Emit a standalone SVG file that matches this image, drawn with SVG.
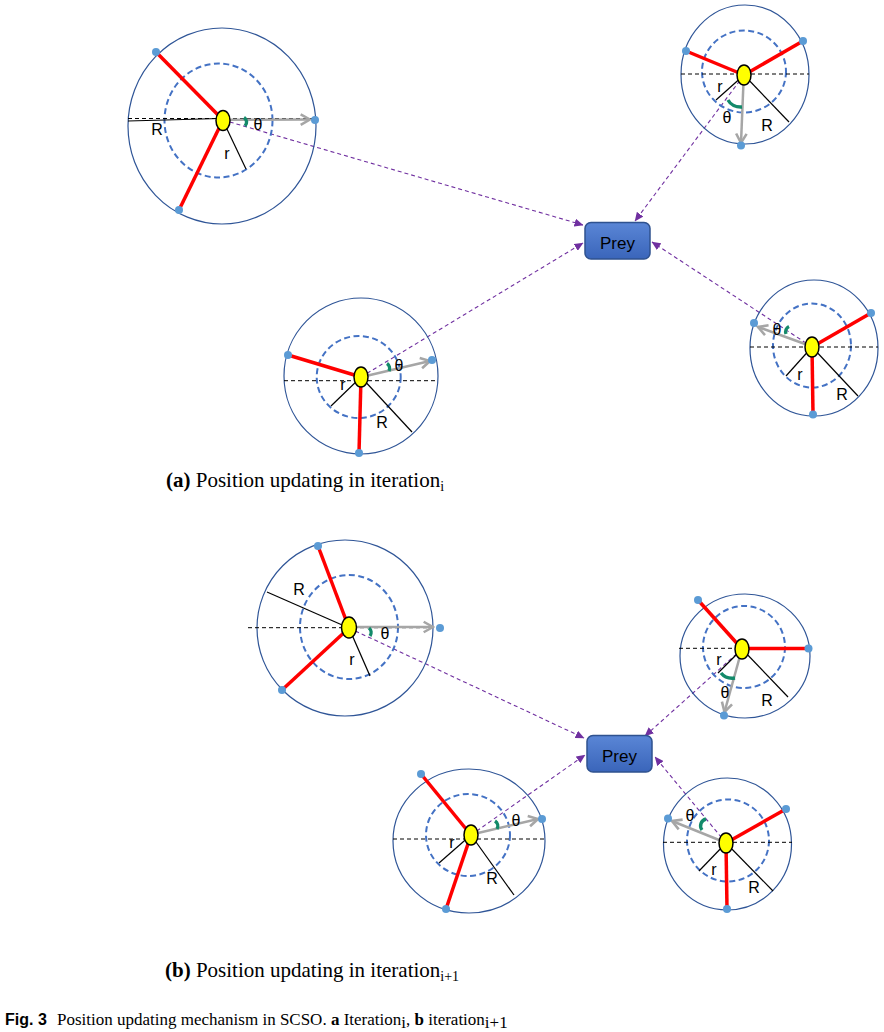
<svg xmlns="http://www.w3.org/2000/svg" width="884" height="1032" viewBox="0 0 884 1032">
<style>
.outer{fill:none;stroke:#2F5597;stroke-width:1.2}
.inner{fill:none;stroke:#4472C4;stroke-width:2;stroke-dasharray:6 3.5}
.hz{stroke:#000;stroke-width:1;stroke-dasharray:4 3}
.blk{stroke:#000;stroke-width:1.2}
.red{stroke:#FF0000;stroke-width:3.5;stroke-linecap:butt}
.dot{fill:#5B9BD5}
.gray{stroke:#A6A6A6;stroke-width:2.5;fill:none;marker-end:url(#garr)}
.arc{fill:none;stroke:#138A6A;stroke-width:3.4}
.node{fill:#FFFF00;stroke:#000;stroke-width:1.5}
.lbl{font-family:"Liberation Sans",Arial,sans-serif;font-size:16px;fill:#000;text-anchor:middle}
.pur{stroke:#7030A0;stroke-width:1.1;stroke-dasharray:4 3;fill:none;marker-end:url(#parr)}
.prey{fill:url(#pg);stroke:#2F528F;stroke-width:1.5}
.preyt{font-family:"Liberation Sans",Arial,sans-serif;font-size:17px;fill:#000;text-anchor:middle}
.cap{font-family:"Liberation Serif","Times New Roman",serif;font-size:21px;fill:#000}
.fig{font-family:"Liberation Serif","Times New Roman",serif;font-size:17px;fill:#000}
</style>
<defs>
<marker id="garr" markerUnits="userSpaceOnUse" markerWidth="14" markerHeight="14" viewBox="0 0 12 12" refX="10" refY="6" orient="auto">
<path d="M2,1.5 L10,6 L2,10.5" fill="none" stroke="#A6A6A6" stroke-width="2.2"/>
</marker>
<marker id="parr" markerUnits="userSpaceOnUse" markerWidth="9" markerHeight="8" viewBox="0 0 9 8" refX="8.5" refY="4" orient="auto">
<path d="M0,0 L9,4 L0,8 z" fill="#7030A0"/>
</marker>
<linearGradient id="pg" x1="0" y1="0" x2="0" y2="1">
<stop offset="0" stop-color="#5A86D6"/>
<stop offset="1" stop-color="#3A65BA"/>
</linearGradient>
</defs>

<g id="connectors">
<line class="pur" x1="223" y1="120" x2="583" y2="225"/>
<line class="pur" x1="361" y1="377" x2="583" y2="243"/>
<line class="pur" x1="744" y1="75" x2="635" y2="221"/>
<line class="pur" x1="812" y1="347" x2="652" y2="242"/>
<line class="pur" x1="349" y1="628" x2="584" y2="738"/>
<line class="pur" x1="471" y1="835" x2="585" y2="755"/>
<line class="pur" x1="742" y1="649" x2="645" y2="736"/>
<line class="pur" x1="726" y1="843" x2="655" y2="757"/>
</g>

<g id="cat-a1">
<ellipse class="outer" cx="222" cy="126" rx="94" ry="98"/>
<ellipse class="inner" cx="218.5" cy="120.5" rx="54" ry="57"/>
<line class="hz" x1="128" y1="118.5" x2="316" y2="118.5"/>
<line class="blk" x1="128" y1="121" x2="220" y2="118.5"/>
<line class="blk" x1="226" y1="127" x2="246" y2="169"/>
<line class="red" x1="223" y1="120" x2="156" y2="52"/>
<line class="red" x1="223" y1="120" x2="179" y2="210"/>
<line class="gray" x1="230" y1="119.8" x2="310" y2="119.5"/>
<circle class="dot" cx="156" cy="52" r="4"/>
<circle class="dot" cx="179" cy="210" r="4"/>
<circle class="dot" cx="315" cy="120" r="4"/>
<path class="arc" d="M244,117.5 A7,6 0 0 1 245,126"/>
<ellipse class="node" cx="223" cy="120.5" rx="7" ry="10"/>
<text class="lbl" x="157" y="135">R</text>
<text class="lbl" x="227" y="159">r</text>
<text class="lbl" x="258" y="130">θ</text>
</g>

<g id="cat-a2">
<ellipse class="outer" cx="745" cy="74.5" rx="64" ry="69.5"/>
<ellipse class="inner" cx="744" cy="71.5" rx="42" ry="41"/>
<line class="hz" x1="681" y1="74" x2="809" y2="74"/>
<line class="red" x1="744" y1="75" x2="686" y2="51"/>
<line class="red" x1="744" y1="75" x2="803" y2="41"/>
<line class="blk" x1="744" y1="75" x2="716" y2="100"/>
<line class="blk" x1="744" y1="75" x2="789" y2="122"/>
<line class="gray" x1="743.5" y1="82" x2="741" y2="143"/>
<circle class="dot" cx="686" cy="51" r="4"/>
<circle class="dot" cx="803" cy="41" r="4"/>
<circle class="dot" cx="741" cy="145.5" r="4"/>
<path class="arc" d="M728,100 A14,12 0 0 0 742,107"/>
<ellipse class="node" cx="744" cy="75" rx="7" ry="10"/>
<text class="lbl" x="720" y="92">r</text>
<text class="lbl" x="767" y="131">R</text>
<text class="lbl" x="727" y="123">θ</text>
</g>

<g id="cat-a3">
<ellipse class="outer" cx="814" cy="348" rx="64" ry="68"/>
<ellipse class="inner" cx="812" cy="345.5" rx="39" ry="42"/>
<line class="hz" x1="750" y1="347" x2="878" y2="347"/>
<line class="red" x1="812" y1="347" x2="871" y2="313"/>
<line class="red" x1="812" y1="347" x2="813" y2="414"/>
<line class="blk" x1="812" y1="347" x2="786" y2="376"/>
<line class="blk" x1="812" y1="347" x2="858" y2="396"/>
<line class="gray" x1="805" y1="344" x2="758" y2="327"/>
<circle class="dot" cx="871" cy="313" r="4"/>
<circle class="dot" cx="813" cy="414.5" r="4"/>
<circle class="dot" cx="754" cy="323" r="4"/>
<path class="arc" d="M789,326.5 A6,6 0 0 0 786,334"/>
<ellipse class="node" cx="812" cy="347" rx="7" ry="10"/>
<text class="lbl" x="800" y="380">r</text>
<text class="lbl" x="842" y="400">R</text>
<text class="lbl" x="777" y="335">θ</text>
</g>

<g id="cat-a4">
<ellipse class="outer" cx="361" cy="376" rx="77" ry="78"/>
<ellipse class="inner" cx="358.7" cy="377" rx="42" ry="41"/>
<line class="hz" x1="284" y1="380.7" x2="438" y2="380.7"/>
<line class="red" x1="361" y1="377" x2="288" y2="355"/>
<line class="red" x1="361" y1="377" x2="359" y2="453"/>
<line class="blk" x1="361" y1="377" x2="331" y2="406"/>
<line class="blk" x1="361" y1="377" x2="412" y2="432"/>
<line class="gray" x1="368" y1="375.5" x2="430" y2="361"/>
<circle class="dot" cx="288" cy="355" r="4"/>
<circle class="dot" cx="359" cy="453" r="4"/>
<circle class="dot" cx="432" cy="360" r="4"/>
<path class="arc" d="M387,363.5 A6,6 0 0 1 389,371"/>
<ellipse class="node" cx="361" cy="377" rx="7" ry="10"/>
<text class="lbl" x="343" y="390">r</text>
<text class="lbl" x="382" y="428">R</text>
<text class="lbl" x="399" y="371">θ</text>
</g>

<g id="prey-a">
<rect class="prey" x="585" y="222.5" width="65" height="36.5" rx="6"/>
<text class="preyt" x="617.5" y="248.5">Prey</text>
</g>

<g id="cat-b1">
<ellipse class="outer" cx="345" cy="628" rx="88" ry="88"/>
<ellipse class="inner" cx="349" cy="627" rx="49" ry="52"/>
<line class="hz" x1="248" y1="627.7" x2="433" y2="627.7"/>
<line class="red" x1="349" y1="628" x2="318" y2="546"/>
<line class="red" x1="349" y1="628" x2="282" y2="690"/>
<line class="blk" x1="349" y1="628" x2="267" y2="592"/>
<line class="blk" x1="349" y1="628" x2="370" y2="676"/>
<line class="gray" x1="356" y1="627" x2="433" y2="627"/>
<circle class="dot" cx="318" cy="546" r="4"/>
<circle class="dot" cx="282" cy="690" r="4"/>
<circle class="dot" cx="440" cy="628" r="4"/>
<path class="arc" d="M369,628 A6,6 0 0 1 370,636"/>
<ellipse class="node" cx="349" cy="627.5" rx="7.5" ry="10.5"/>
<text class="lbl" x="299" y="595">R</text>
<text class="lbl" x="352" y="665">r</text>
<text class="lbl" x="385" y="639">θ</text>
</g>

<g id="cat-b2">
<ellipse class="outer" cx="745" cy="656" rx="65" ry="62"/>
<ellipse class="inner" cx="744" cy="647" rx="41" ry="41"/>
<line class="hz" x1="679" y1="648.3" x2="808" y2="648.3"/>
<line class="red" x1="742" y1="649" x2="698" y2="600"/>
<line class="red" x1="742" y1="648.5" x2="808" y2="648.5"/>
<line class="blk" x1="742" y1="649" x2="718" y2="673"/>
<line class="blk" x1="742" y1="649" x2="788" y2="697"/>
<line class="gray" x1="740" y1="656" x2="724.5" y2="712"/>
<circle class="dot" cx="698" cy="600" r="4"/>
<circle class="dot" cx="808.5" cy="648.5" r="4"/>
<circle class="dot" cx="724" cy="715.5" r="4"/>
<path class="arc" d="M721,673 A14,12 0 0 0 735,678"/>
<ellipse class="node" cx="742" cy="649" rx="7" ry="10"/>
<text class="lbl" x="719" y="665">r</text>
<text class="lbl" x="767" y="706">R</text>
<text class="lbl" x="725" y="698">θ</text>
</g>

<g id="cat-b3">
<ellipse class="outer" cx="469" cy="841" rx="76" ry="72"/>
<ellipse class="inner" cx="468" cy="835" rx="42" ry="41"/>
<line class="hz" x1="393" y1="839" x2="545" y2="839"/>
<line class="red" x1="471" y1="835" x2="421" y2="774"/>
<line class="red" x1="471" y1="835" x2="446" y2="909"/>
<line class="blk" x1="471" y1="835" x2="439" y2="863"/>
<line class="blk" x1="471" y1="835" x2="514" y2="895"/>
<line class="gray" x1="478" y1="833" x2="538" y2="819"/>
<circle class="dot" cx="421" cy="774" r="4"/>
<circle class="dot" cx="446" cy="909" r="4"/>
<circle class="dot" cx="542" cy="819" r="4"/>
<path class="arc" d="M495,821 A6,6 0 0 1 497,829"/>
<ellipse class="node" cx="471" cy="835" rx="7" ry="10"/>
<text class="lbl" x="452" y="848">r</text>
<text class="lbl" x="492" y="884">R</text>
<text class="lbl" x="516" y="826">θ</text>
</g>

<g id="cat-b4">
<ellipse class="outer" cx="727.5" cy="844" rx="64" ry="66"/>
<ellipse class="inner" cx="728" cy="840.5" rx="41" ry="41"/>
<line class="hz" x1="663" y1="842.3" x2="792" y2="842.3"/>
<line class="red" x1="726" y1="843" x2="786" y2="809"/>
<line class="red" x1="726" y1="843" x2="727" y2="909"/>
<line class="blk" x1="726" y1="843" x2="699" y2="871"/>
<line class="blk" x1="726" y1="843" x2="773" y2="891"/>
<line class="gray" x1="719" y1="840" x2="672" y2="821"/>
<circle class="dot" cx="786" cy="809" r="4"/>
<circle class="dot" cx="727" cy="909" r="4"/>
<circle class="dot" cx="668" cy="818.5" r="4"/>
<path class="arc" d="M706,819 A7,7 0 0 0 702,830"/>
<ellipse class="node" cx="726" cy="843" rx="7" ry="10"/>
<text class="lbl" x="714" y="875">r</text>
<text class="lbl" x="754" y="893">R</text>
<text class="lbl" x="690" y="821">θ</text>
</g>

<g id="prey-b">
<rect class="prey" x="587" y="735.5" width="65" height="36.5" rx="6"/>
<text class="preyt" x="619.5" y="761.5">Prey</text>
</g>

<text class="cap" x="166" y="487"><tspan font-weight="bold">(a)</tspan> Position updating in iteration<tspan font-size="14" dy="4">i</tspan></text>
<text class="cap" x="165" y="977"><tspan font-weight="bold">(b)</tspan> Position updating in iteration<tspan font-size="14" dy="4">i+1</tspan></text>
<text x="5" y="1025"><tspan font-family="Liberation Sans,Arial,sans-serif" font-weight="bold" font-size="16">Fig. 3</tspan><tspan class="fig" x="57">Position updating mechanism in SCSO. </tspan><tspan class="fig" font-weight="bold">a</tspan><tspan class="fig"> Iteration</tspan><tspan class="fig" font-size="12" dy="3">i</tspan><tspan class="fig" dy="-3">, </tspan><tspan class="fig" font-weight="bold">b</tspan><tspan class="fig"> iteration</tspan><tspan class="fig" font-size="12" dy="3">i+1</tspan></text>
</svg>
